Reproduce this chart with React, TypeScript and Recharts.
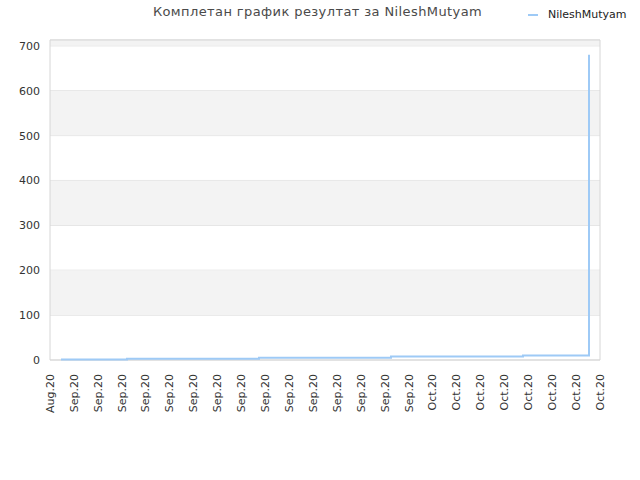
import { LineChart, Line, XAxis, YAxis, CartesianGrid, ReferenceArea } from 'recharts';

const tickLabels = [
  'Aug.20',
  'Sep.20', 'Sep.20', 'Sep.20', 'Sep.20', 'Sep.20', 'Sep.20', 'Sep.20', 'Sep.20',
  'Sep.20', 'Sep.20', 'Sep.20', 'Sep.20', 'Sep.20', 'Sep.20', 'Sep.20',
  'Oct.20', 'Oct.20', 'Oct.20', 'Oct.20', 'Oct.20', 'Oct.20', 'Oct.20', 'Oct.20',
];

// position along the axis (in tick units) and score
const positions = [0.46, 3.22, 8.74, 14.26, 19.78, 22.54, 22.54, 22.54, 22.54, 22.54, 22.54];
const scores = [1, 3, 5, 8, 10, 22, 130, 446, 557, 680, 680];

const yTicks = [0, 100, 200, 300, 400, 500, 600, 700];
const bands = [[100, 200], [300, 400], [500, 600], [700, 713]];

const data = positions.map((x, i) => ({ x, score: scores[i] }));

const XTick = (props: any) => {
  const { x, y, payload } = props;
  return (
    <text
      x={x}
      y={y}
      transform={`rotate(-90, ${x}, ${y})`}
      textAnchor="end"
      dy="0.35em"
      fontSize={11}
      fill="#333"
      fontFamily="DejaVu Sans"
    >
      {tickLabels[payload.value]}
    </text>
  );
};

export default function App() {
  return (
    <div style={{ position: 'absolute', left: 0, top: 0, width: 640, height: 480, background: '#fff' }}>
      <div
        style={{
          position: 'absolute',
          top: 4,
          left: 0,
          width: 635,
          textAlign: 'center',
          fontFamily: 'DejaVu Sans',
          fontSize: 13,
          letterSpacing: 0.4,
          color: '#4a4a4a',
        }}
      >
        Комплетан график резултат за NileshMutyam
      </div>
      <div
        style={{
          position: 'absolute',
          top: 8,
          left: 528,
          display: 'flex',
          alignItems: 'center',
          fontFamily: 'DejaVu Sans',
          fontSize: 11,
          color: '#222',
        }}
      >
        <span style={{ display: 'inline-block', width: 10, height: 2, background: '#9ecaf6', marginRight: 10 }} />
        NileshMutyam
      </div>
      <LineChart width={640} height={480} data={data} margin={{ top: 40, right: 40, left: 0, bottom: 0 }}>
        {bands.map(([y1, y2], i) => (
          <ReferenceArea key={i} y1={y1} y2={y2} fill="#f3f3f3" fillOpacity={1} stroke="none" />
        ))}
        <CartesianGrid vertical={false} stroke="#dddddd" />
        <ReferenceArea x1={0} x2={23} y1={0} y2={713} fill="none" stroke="#d6d6d6" strokeWidth={1} />
        <XAxis
          type="number"
          dataKey="x"
          domain={[0, 23]}
          ticks={tickLabels.map((_, i) => i)}
          interval={0}
          tick={<XTick />}
          tickLine={false}
          axisLine={false}
          height={120}
          tickMargin={8}
        />
        <YAxis
          type="number"
          domain={[0, 713]}
          ticks={yTicks}
          width={50}
          tickLine={false}
          axisLine={false}
          tickMargin={4}
          tick={{ fontSize: 11, fill: '#333', fontFamily: 'DejaVu Sans' }}
        />
        <Line
          type="stepAfter"
          dataKey="score"
          stroke="#9ecaf6"
          strokeWidth={2}
          dot={false}
          activeDot={false}
          isAnimationActive={false}
        />
      </LineChart>
    </div>
  );
}
